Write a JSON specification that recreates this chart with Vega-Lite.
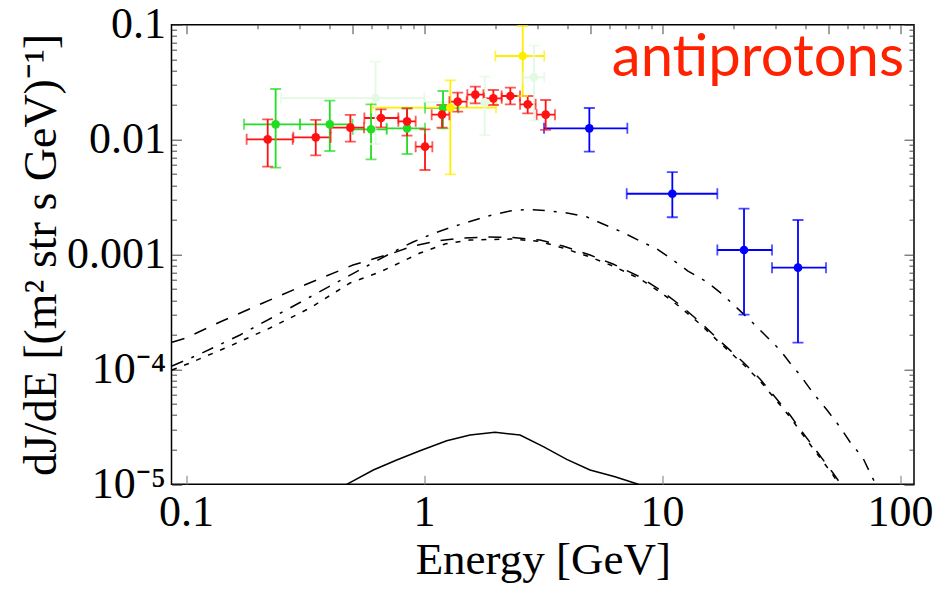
{
  "$schema": "https://vega.github.io/schema/vega-lite/v6.json",
  "width": 742.5,
  "height": 459.6,
  "autosize": {"type": "none"},
  "padding": {"left": 171.5, "top": 24.7, "right": 36, "bottom": 107},
  "background": "white",
  "config": {
    "view": {"stroke": "#000", "strokeWidth": 1.5},
    "axis": {"grid": false, "domain": false, "tickColor": "#444", "tickWidth": 1, "labelFont": "Liberation Serif", "titleFont": "Liberation Serif", "labelColor": "#000", "titleColor": "#000", "titleFontWeight": "normal", "labelFlush": false, "labelOverlap": false}
  },
  "datasets": {
    "curves": [
      {"c": "longdash", "E": 0.08733, "F": 0.000172}, {"c": "longdash", "E": 0.1, "F": 0.0001876}, {"c": "longdash", "E": 0.1389, "F": 0.0002585}, {"c": "longdash", "E": 0.2106, "F": 0.0003784}, {"c": "longdash", "E": 0.3224, "F": 0.0005536}, {"c": "longdash", "E": 0.5031, "F": 0.0008101}, {"c": "longdash", "E": 0.7407, "F": 0.00103}, {"c": "longdash", "E": 0.8992, "F": 0.001186}, {"c": "longdash", "E": 1.134, "F": 0.001311}, {"c": "longdash", "E": 1.458, "F": 0.001392}, {"c": "longdash", "E": 1.84, "F": 0.00142}, {"c": "longdash", "E": 2.365, "F": 0.001406}, {"c": "longdash", "E": 3.072, "F": 0.001337}, {"c": "longdash", "E": 3.837, "F": 0.001186}, {"c": "longdash", "E": 4.984, "F": 0.00099}, {"c": "longdash", "E": 6.224, "F": 0.000827}, {"c": "longdash", "E": 8.085, "F": 0.000637}, {"c": "longdash", "E": 9.808, "F": 0.000491}, {"c": "longdash", "E": 11.9, "F": 0.0003635}, {"c": "longdash", "E": 14.44, "F": 0.0002585}, {"c": "longdash", "E": 17.52, "F": 0.0001767}, {"c": "longdash", "E": 21.89, "F": 0.000116}, {"c": "longdash", "E": 25.81, "F": 0.0000825}, {"c": "longdash", "E": 29.84, "F": 0.0000575}, {"c": "longdash", "E": 34.5, "F": 0.0000401}, {"c": "longdash", "E": 39.12, "F": 0.00002796}, {"c": "longdash", "E": 45.24, "F": 0.00001873}, {"c": "longdash", "E": 52.3, "F": 0.00001254}, {"c": "longdash", "E": 56.51, "F": 0.00001},
      {"c": "dotted", "E": 0.08733, "F": 0.0000988}, {"c": "dotted", "E": 0.1039, "F": 0.0001137}, {"c": "dotted", "E": 0.1531, "F": 0.0001598}, {"c": "dotted", "E": 0.2254, "F": 0.0002293}, {"c": "dotted", "E": 0.3319, "F": 0.0003423}, {"c": "dotted", "E": 0.4887, "F": 0.0005649}, {"c": "dotted", "E": 0.6533, "F": 0.000704}, {"c": "dotted", "E": 0.7407, "F": 0.000794}, {"c": "dotted", "E": 0.962, "F": 0.00103}, {"c": "dotted", "E": 1.225, "F": 0.001234}, {"c": "dotted", "E": 1.561, "F": 0.001337}, {"c": "dotted", "E": 1.894, "F": 0.001351}, {"c": "dotted", "E": 2.365, "F": 0.001364}, {"c": "dotted", "E": 3.072, "F": 0.001298}, {"c": "dotted", "E": 3.837, "F": 0.001139}, {"c": "dotted", "E": 4.984, "F": 0.000951}, {"c": "dotted", "E": 6.224, "F": 0.000794}, {"c": "dotted", "E": 8.085, "F": 0.000612}, {"c": "dotted", "E": 9.808, "F": 0.000472}, {"c": "dotted", "E": 11.9, "F": 0.0003492}, {"c": "dotted", "E": 14.44, "F": 0.0002484}, {"c": "dotted", "E": 17.52, "F": 0.0001698}, {"c": "dotted", "E": 21.89, "F": 0.0001114}, {"c": "dotted", "E": 25.81, "F": 0.0000793}, {"c": "dotted", "E": 29.84, "F": 0.0000553}, {"c": "dotted", "E": 34.5, "F": 0.00003853}, {"c": "dotted", "E": 39.12, "F": 0.00002687}, {"c": "dotted", "E": 45.24, "F": 0.00001799}, {"c": "dotted", "E": 52.3, "F": 0.00001205}, {"c": "dotted", "E": 55.4, "F": 0.00001},
      {"c": "dashdot", "E": 0.08733, "F": 0.0001071}, {"c": "dashdot", "E": 0.1145, "F": 0.0001361}, {"c": "dashdot", "E": 0.1686, "F": 0.0001993}, {"c": "dashdot", "E": 0.2412, "F": 0.0002975}, {"c": "dashdot", "E": 0.3319, "F": 0.0004267}, {"c": "dashdot", "E": 0.4567, "F": 0.000612}, {"c": "dashdot", "E": 0.5762, "F": 0.000794}, {"c": "dashdot", "E": 0.7407, "F": 0.001051}, {"c": "dashdot", "E": 0.8992, "F": 0.001285}, {"c": "dashdot", "E": 1.08, "F": 0.001508}, {"c": "dashdot", "E": 1.311, "F": 0.001735}, {"c": "dashdot", "E": 1.857, "F": 0.002163}, {"c": "dashdot", "E": 2.297, "F": 0.002391}, {"c": "dashdot", "E": 2.709, "F": 0.002464}, {"c": "dashdot", "E": 3.224, "F": 0.002415}, {"c": "dashdot", "E": 3.989, "F": 0.002297}, {"c": "dashdot", "E": 4.84, "F": 0.00212}, {"c": "dashdot", "E": 5.65, "F": 0.001842}, {"c": "dashdot", "E": 6.79, "F": 0.00157}, {"c": "dashdot", "E": 8.085, "F": 0.001311}, {"c": "dashdot", "E": 9.528, "F": 0.001117}, {"c": "dashdot", "E": 11.12, "F": 0.000896}, {"c": "dashdot", "E": 12.86, "F": 0.000718}, {"c": "dashdot", "E": 15.46, "F": 0.000576}, {"c": "dashdot", "E": 17.87, "F": 0.000453}, {"c": "dashdot", "E": 20.26, "F": 0.0003562}, {"c": "dashdot", "E": 24.12, "F": 0.0002534}, {"c": "dashdot", "E": 27.09, "F": 0.0001993}, {"c": "dashdot", "E": 31.32, "F": 0.0001475}, {"c": "dashdot", "E": 34.5, "F": 0.0001137}, {"c": "dashdot", "E": 38.01, "F": 0.0000894}, {"c": "dashdot", "E": 43.11, "F": 0.0000623}, {"c": "dashdot", "E": 49.36, "F": 0.0000443}, {"c": "dashdot", "E": 55.96, "F": 0.00003152}, {"c": "dashdot", "E": 61.65, "F": 0.00002334}, {"c": "dashdot", "E": 69.91, "F": 0.00001694}, {"c": "dashdot", "E": 76.27, "F": 0.00001157}, {"c": "dashdot", "E": 79.28, "F": 0.00001},
      {"c": "solid", "E": 0.4733, "F": 0.00001}, {"c": "solid", "E": 0.6124, "F": 0.00001332}, {"c": "solid", "E": 0.7679, "F": 0.00001627}, {"c": "solid", "E": 0.962, "F": 0.00001961}, {"c": "solid", "E": 1.246, "F": 0.00002396}, {"c": "solid", "E": 1.561, "F": 0.00002687}, {"c": "solid", "E": 1.988, "F": 0.00002836}, {"c": "solid", "E": 2.532, "F": 0.00002687}, {"c": "solid", "E": 3.172, "F": 0.00002125}, {"c": "solid", "E": 3.978, "F": 0.0000165}, {"c": "solid", "E": 4.984, "F": 0.00001332}, {"c": "solid", "E": 6.346, "F": 0.00001164}, {"c": "solid", "E": 7.951, "F": 0.00001}
    ],
    "points": [
      {"set": "lightgreen", "E": 0.626, "F": 0.023, "Elo": 0.251, "Ehi": 1.003, "Flo": 0.00916, "Fhi": 0.0477},
      {"set": "lightgreen", "E": 1.8, "F": 0.0211, "Elo": 1.003, "Ehi": 2.02, "Flo": 0.01096, "Fhi": 0.0353},
      {"set": "lightgreen", "E": 2.9, "F": 0.0348, "Elo": 2.615, "Ehi": 3.203, "Flo": 0.01462, "Fhi": 0.0657},
      {"set": "green", "E": 0.238, "F": 0.01358, "Elo": 0.1753, "Ehi": 0.3013, "Flo": 0.0057, "Fhi": 0.02757},
      {"set": "green", "E": 0.402, "F": 0.01358, "Elo": 0.3013, "Ehi": 0.5, "Flo": 0.00796, "Fhi": 0.02182},
      {"set": "green", "E": 0.599, "F": 0.01229, "Elo": 0.5016, "Ehi": 0.697, "Flo": 0.00673, "Fhi": 0.02028},
      {"set": "green", "E": 0.849, "F": 0.01253, "Elo": 0.697, "Ehi": 1.01, "Flo": 0.00749, "Fhi": 0.01871},
      {"set": "green", "E": 1.202, "F": 0.01884, "Elo": 1.01, "Ehi": 1.394, "Flo": 0.01253, "Fhi": 0.02649},
      {"set": "red", "E": 0.2204, "F": 0.01005, "Elo": 0.1798, "Ehi": 0.2807, "Flo": 0.00581, "Fhi": 0.01501},
      {"set": "red", "E": 0.3508, "F": 0.01046, "Elo": 0.2825, "Ehi": 0.4055, "Flo": 0.0073, "Fhi": 0.01482},
      {"set": "red", "E": 0.4903, "F": 0.0127, "Elo": 0.4055, "Ehi": 0.5597, "Flo": 0.00959, "Fhi": 0.01638},
      {"set": "red", "E": 0.6597, "F": 0.01542, "Elo": 0.5615, "Ehi": 0.78, "Flo": 0.01279, "Fhi": 0.01834},
      {"set": "red", "E": 0.8486, "F": 0.01442, "Elo": 0.78, "Ehi": 0.9226, "Flo": 0.01082, "Fhi": 0.01871},
      {"set": "red", "E": 1.0097, "F": 0.00868, "Elo": 0.9226, "Ehi": 1.084, "Flo": 0.00544, "Fhi": 0.01229},
      {"set": "red", "E": 1.19, "F": 0.01648, "Elo": 1.077, "Ehi": 1.278, "Flo": 0.0127, "Fhi": 0.02},
      {"set": "red", "E": 1.385, "F": 0.02138, "Elo": 1.278, "Ehi": 1.511, "Flo": 0.0175, "Fhi": 0.02562},
      {"set": "red", "E": 1.643, "F": 0.0246, "Elo": 1.521, "Ehi": 1.776, "Flo": 0.02069, "Fhi": 0.02889},
      {"set": "red", "E": 1.956, "F": 0.02286, "Elo": 1.787, "Ehi": 2.12, "Flo": 0.02, "Fhi": 0.02702},
      {"set": "red", "E": 2.305, "F": 0.02396, "Elo": 2.12, "Ehi": 2.532, "Flo": 0.02028, "Fhi": 0.02831},
      {"set": "red", "E": 2.727, "F": 0.02028, "Elo": 2.532, "Ehi": 2.946, "Flo": 0.01693, "Fhi": 0.02396},
      {"set": "red", "E": 3.245, "F": 0.01648, "Elo": 2.975, "Ehi": 3.551, "Flo": 0.01213, "Fhi": 0.02211},
      {"set": "yellow", "E": 1.29, "F": 0.01896, "Elo": 0.6028, "Ehi": 2.007, "Flo": 0.00498, "Fhi": 0.0328},
      {"set": "yellow", "E": 2.598, "F": 0.0534, "Elo": 1.994, "Ehi": 3.203, "Flo": 0.02396, "Fhi": 0.0974},
      {"set": "blue", "E": 4.951, "F": 0.01253, "Elo": 3.193, "Ehi": 7.151, "Flo": 0.00785, "Fhi": 0.01884},
      {"set": "blue", "E": 11.05, "F": 0.00338, "Elo": 7.107, "Ehi": 17.08, "Flo": 0.00211, "Fhi": 0.00522},
      {"set": "blue", "E": 22.11, "F": 0.001094, "Elo": 17.08, "Ehi": 28.99, "Flo": 0.0003, "Fhi": 0.002505},
      {"set": "blue", "E": 37.27, "F": 0.000768, "Elo": 28.99, "Ehi": 48.88, "Flo": 0.000171, "Fhi": 0.001997}
    ]
  },
  "layer": [
    {
      "data": {"name": "curves"},
      "transform": [{"filter": "datum.c === 'longdash'"}],
      "mark": {"type": "line", "color": "#000", "strokeWidth": 1.5, "strokeDash": [13, 11], "clip": true},
      "encoding": {
        "x": {"field": "E", "type": "quantitative", "scale": {"type": "log", "domain": [0.0869, 114.5], "nice": false},
          "axis": {"orient": "bottom", "values": [0.1, 1, 10, 100], "format": "~g", "tickSize": -9, "tickColor": "#777", "labelPadding": 15, "labelFontSize": 44, "title": "Energy [GeV]", "titleFontSize": 45, "titlePadding": 3}},
        "y": {"field": "F", "type": "quantitative", "scale": {"type": "log", "domain": [0.00001, 0.1], "nice": false},
          "axis": {"orient": "left", "values": [0.00001, 0.0001, 0.001, 0.01, 0.1], "tickSize": -10, "labelPadding": 16, "labelFontSize": 44, "labelBaseline": "middle",
            "labelExpr": "datum.value > 0.0005 ? format(datum.value, '~g') : (datum.value > 0.00005 ? '10⁻⁴' : '10⁻⁵')",
            "title": "dJ/dE [(m² str s GeV)⁻¹]", "titleFontSize": 46, "titlePadding": 1}}
      }
    },
    {
      "data": {"name": "curves"},
      "transform": [{"filter": "datum.c === 'dotted'"}],
      "mark": {"type": "line", "color": "#000", "strokeWidth": 1.5, "strokeDash": [5, 8], "clip": true},
      "encoding": {
        "x": {"field": "E", "type": "quantitative", "scale": {"type": "log", "domain": [0.0869, 114.5], "nice": false},
          "axis": {"orient": "top", "values": [0.1, 0.5, 1, 5, 10, 50, 100], "tickSize": -9, "labels": false, "title": null}},
        "y": {"field": "F", "type": "quantitative", "scale": {"type": "log", "domain": [0.00001, 0.1], "nice": false},
          "axis": {"orient": "right", "values": [0.00001, 0.0001, 0.001, 0.01, 0.1], "tickSize": -10, "labels": false, "title": null}}
      }
    },
    {
      "data": {"name": "curves"},
      "transform": [{"filter": "datum.c === 'dashdot'"}],
      "mark": {"type": "line", "color": "#000", "strokeWidth": 1.5, "strokeDash": [12, 9, 3, 9], "clip": true},
      "encoding": {
        "x": {"field": "E", "type": "quantitative", "scale": {"type": "log", "domain": [0.0869, 114.5], "nice": false},
          "axis": {"orient": "top", "values": [0.2, 0.3, 0.4, 0.6, 0.7, 0.8, 0.9, 2, 3, 4, 6, 7, 8, 9, 20, 30, 40, 60, 70, 80, 90], "tickSize": -4, "labels": false, "title": null}},
        "y": {"field": "F", "type": "quantitative", "scale": {"type": "log", "domain": [0.00001, 0.1], "nice": false},
          "axis": {"orient": "left", "values": [0.00002, 0.00003, 0.00004, 0.00005, 0.00006, 0.00007, 0.00008, 0.00009, 0.0002, 0.0003, 0.0004, 0.0005, 0.0006, 0.0007, 0.0008, 0.0009, 0.002, 0.003, 0.004, 0.005, 0.006, 0.007, 0.008, 0.009, 0.02, 0.03, 0.04, 0.05, 0.06, 0.07, 0.08, 0.09], "tickSize": -5, "labels": false, "title": null}}
      }
    },
    {
      "data": {"name": "curves"},
      "transform": [{"filter": "datum.c === 'solid'"}],
      "mark": {"type": "line", "color": "#000", "strokeWidth": 1.5, "clip": true},
      "encoding": {
        "x": {"field": "E", "type": "quantitative", "scale": {"type": "log", "domain": [0.0869, 114.5], "nice": false}, "axis": null},
        "y": {"field": "F", "type": "quantitative", "scale": {"type": "log", "domain": [0.00001, 0.1], "nice": false},
          "axis": {"orient": "right", "values": [0.00002, 0.00003, 0.00004, 0.00005, 0.00006, 0.00007, 0.00008, 0.00009, 0.0002, 0.0003, 0.0004, 0.0005, 0.0006, 0.0007, 0.0008, 0.0009, 0.002, 0.003, 0.004, 0.005, 0.006, 0.007, 0.008, 0.009, 0.02, 0.03, 0.04, 0.05, 0.06, 0.07, 0.08, 0.09], "tickSize": -5, "labels": false, "title": null}}
      }
    },
    {
      "data": {"name": "points"},
      "mark": {"type": "rule", "strokeWidth": 1.8, "clip": true},
      "encoding": {
        "x": {"field": "Elo", "type": "quantitative", "scale": {"type": "log", "domain": [0.0869, 114.5], "nice": false}, "axis": null},
        "x2": {"field": "Ehi"},
        "y": {"field": "F", "type": "quantitative", "scale": {"type": "log", "domain": [0.00001, 0.1], "nice": false}, "axis": null},
        "color": {"field": "set", "type": "nominal", "scale": {"domain": ["lightgreen", "green", "red", "yellow", "blue"], "range": ["#e2f9e2", "#22dd22", "#ff1111", "#ffee00", "#0000ff"]}, "legend": null}
      }
    },
    {
      "data": {"name": "points"},
      "mark": {"type": "rule", "strokeWidth": 1.8, "clip": true},
      "encoding": {
        "x": {"field": "E", "type": "quantitative", "scale": {"type": "log", "domain": [0.0869, 114.5], "nice": false}, "axis": null},
        "y": {"field": "Flo", "type": "quantitative", "scale": {"type": "log", "domain": [0.00001, 0.1], "nice": false}, "axis": null},
        "y2": {"field": "Fhi"},
        "color": {"field": "set", "type": "nominal", "scale": {"domain": ["lightgreen", "green", "red", "yellow", "blue"], "range": ["#e2f9e2", "#22dd22", "#ff1111", "#ffee00", "#0000ff"]}, "legend": null}
      }
    },
    {
      "data": {"name": "points"},
      "transform": [{"fold": ["Elo", "Ehi"], "as": ["k", "Ecap"]}],
      "mark": {"type": "tick", "orient": "vertical", "size": 11, "thickness": 1.8, "clip": true},
      "encoding": {
        "x": {"field": "Ecap", "type": "quantitative", "scale": {"type": "log", "domain": [0.0869, 114.5], "nice": false}, "axis": null},
        "y": {"field": "F", "type": "quantitative", "scale": {"type": "log", "domain": [0.00001, 0.1], "nice": false}, "axis": null},
        "color": {"field": "set", "type": "nominal", "scale": {"domain": ["lightgreen", "green", "red", "yellow", "blue"], "range": ["#e2f9e2", "#22dd22", "#ff1111", "#ffee00", "#0000ff"]}, "legend": null}
      }
    },
    {
      "data": {"name": "points"},
      "transform": [{"fold": ["Flo", "Fhi"], "as": ["k", "Fcap"]}],
      "mark": {"type": "tick", "orient": "horizontal", "size": 11, "thickness": 1.8, "clip": true},
      "encoding": {
        "x": {"field": "E", "type": "quantitative", "scale": {"type": "log", "domain": [0.0869, 114.5], "nice": false}, "axis": null},
        "y": {"field": "Fcap", "type": "quantitative", "scale": {"type": "log", "domain": [0.00001, 0.1], "nice": false}, "axis": null},
        "color": {"field": "set", "type": "nominal", "scale": {"domain": ["lightgreen", "green", "red", "yellow", "blue"], "range": ["#e2f9e2", "#22dd22", "#ff1111", "#ffee00", "#0000ff"]}, "legend": null}
      }
    },
    {
      "data": {"name": "points"},
      "mark": {"type": "circle", "size": 75, "opacity": 1},
      "encoding": {
        "x": {"field": "E", "type": "quantitative", "scale": {"type": "log", "domain": [0.0869, 114.5], "nice": false}, "axis": null},
        "y": {"field": "F", "type": "quantitative", "scale": {"type": "log", "domain": [0.00001, 0.1], "nice": false}, "axis": null},
        "color": {"field": "set", "type": "nominal", "scale": {"domain": ["lightgreen", "green", "red", "yellow", "blue"], "range": ["#e2f9e2", "#22dd22", "#ff1111", "#ffee00", "#0000ff"]}, "legend": null}
      }
    },
    {
      "data": {"values": [{}]},
      "mark": {"type": "text", "text": "antiprotons", "font": "Lato", "fontSize": 58, "color": "#ff2200", "align": "center", "baseline": "alphabetic"},
      "encoding": {
        "x": {"datum": 25.3, "type": "quantitative", "scale": {"type": "log", "domain": [0.0869, 114.5], "nice": false}, "axis": null},
        "y": {"datum": 0.0355, "type": "quantitative", "scale": {"type": "log", "domain": [0.00001, 0.1], "nice": false}, "axis": null}
      }
    }
  ],
  "resolve": {"axis": {"x": "independent", "y": "independent"}}
}
